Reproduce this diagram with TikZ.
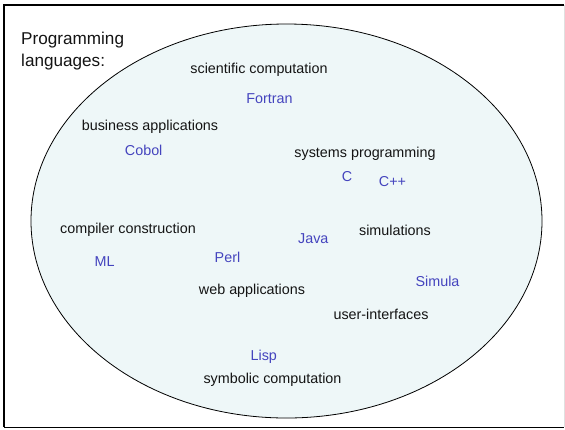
\documentclass[tikz,border=0pt]{standalone}
\usepackage{fontspec}
\setmainfont{Liberation Sans}
\definecolor{langblue}{RGB}{68,68,190}
\definecolor{fieldink}{RGB}{20,20,20}
\definecolor{ovalfill}{RGB}{238,247,248}
\tikzset{
  field/.style={inner sep=0pt, text=fieldink, font=\fontsize{14.4}{17}\selectfont},
  lang/.style={inner sep=0pt, text=langblue, font=\fontsize{14.4}{17}\selectfont},
}
\begin{document}
\begin{tikzpicture}[x=1bp,y=-1bp]
  \useasboundingbox (0,0) rectangle (565,429);
  \fill[white] (0,0) rectangle (565,429);
  % frame
  \draw[line width=2bp] (4,427) -- (4,5) -- (564,5);
  \draw[line width=1bp] (4,427) -- (564,427);
  \draw[line width=0.8bp, black!12] (564,5) -- (564,427);
  % the domain oval
  \draw[fill=ovalfill, line width=0.8bp] (286.5,221) ellipse [x radius=255.5, y radius=197];
  % heading
  \node[anchor=west, inner sep=0pt, align=left, font=\fontsize{17.2}{22}\selectfont, text=fieldink] (title) at (21,51) {Programming\\languages:};
  % application areas
  \node[field] (sci) at (259,70) {scientific computation};
  \node[field] (bus) at (150,127) {business applications};
  \node[field] (sys) at (365,154) {systems programming};
  \node[field] (comp) at (128,230) {compiler construction};
  \node[field] (sim) at (395,230) {simulations};
  \node[field] (web) at (252,291) {web applications};
  \node[field] (ui) at (381,314) {user-interfaces};
  \node[field] (sym) at (272.5,380) {symbolic computation};
  % languages
  \node[lang] (fortran) at (269.5,99) {Fortran};
  \node[lang] (cobol) at (143.7,150) {Cobol};
  \node[lang] (c) at (347,177) {C};
  \node[lang] (cpp) at (392.5,181.7) {C++};
  \node[lang] (java) at (313.3,238.7) {Java};
  \node[lang] (ml) at (104.7,261.7) {ML};
  \node[lang] (perl) at (227.5,257.7) {Perl};
  \node[lang] (simula) at (437.5,281.7) {Simula};
  \node[lang] (lisp) at (263.8,356.7) {Lisp};
\end{tikzpicture}
\end{document}
